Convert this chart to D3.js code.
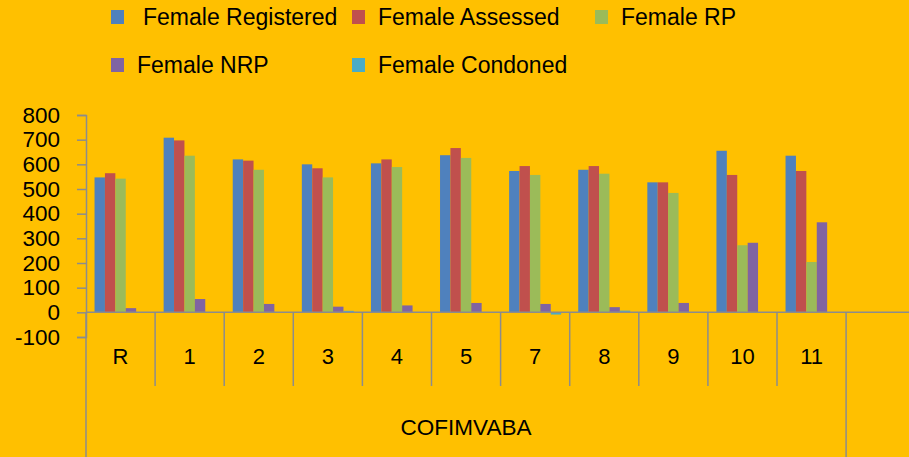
<!DOCTYPE html>
<html>
<head>
<meta charset="utf-8">
<script src="https://cdn.jsdelivr.net/npm/d3@7"></script>
<style>
  html, body { margin: 0; padding: 0; background: #FFC000; }
  svg { display: block; }
  text { font-family: "Liberation Sans", Arial, sans-serif; fill: #000; }
</style>
</head>
<body>
<svg id="chart"></svg>
<script>
const categories = ["R", "1", "2", "3", "4", "5", "7", "8", "9", "10", "11", ""];
const series = ["Female Registered", "Female Assessed", "Female RP", "Female NRP", "Female Condoned"];
const colors = ["#4F81BD", "#C0504D", "#9BBB59", "#8064A2", "#4BACC6"];

const femaleRegistered = [547, 708, 620, 600, 604, 637, 573, 578, 527, 655, 635];
const femaleAssessed   = [564, 697, 615, 584, 620, 666, 593, 593, 527, 557, 573];
const femaleRP         = [542, 635, 578, 547, 589, 626, 557, 562, 484, 272, 204];
const femaleNRP        = [17, 54, 34, 23, 28, 38, 34, 21, 38, 282, 365];
const femaleCondoned   = [0, 0, 0, 6, 0, 0, -9, 7, 0, 0, 0];

const yTicks = [-100, 0, 100, 200, 300, 400, 500, 600, 700, 800];
const groupLabel = "COFIMVABA";

const width = 909;
const height = 457;
const axisColor = "#8C8C8C";
const values = [femaleRegistered, femaleAssessed, femaleRP, femaleNRP, femaleCondoned];

// legend slots (x of swatch, x of text, row centre)
const legendPos = [
    {sx: 111, tx: 143, y: 17},
    {sx: 352, tx: 378, y: 17},
    {sx: 595, tx: 621, y: 17},
    {sx: 111, tx: 137, y: 65},
    {sx: 352, tx: 378, y: 65}
];

const svg = d3.select("#chart")
    .attr("width", width)
    .attr("height", height);

const x = d3.scaleBand()
    .domain(categories)
    .range([86, 86 + 69.1 * categories.length]);

const xs = d3.scaleBand()
    .domain(series)
    .range([0, x.bandwidth()])
    .paddingOuter(0.82);

const y = d3.scaleLinear()
    .domain([-100, 800])
    .range([337, 115]);

// bars
const groups = svg.append("g")
    .selectAll("g")
    .data(series)
    .join("g")
    .attr("fill", (d, i) => colors[i]);

groups.selectAll("rect")
    .data((s, i) => values[i].map((v, j) => ({s, v, c: categories[j]})))
    .join("rect")
    .attr("x", d => x(d.c) + xs(d.s))
    .attr("width", xs.bandwidth())
    .attr("y", d => y(Math.max(0, d.v)))
    .attr("height", d => Math.abs(y(d.v) - y(0)));

// y axis
const yAxis = d3.axisLeft(y)
    .tickValues(yTicks)
    .tickSize(9)
    .tickPadding(17)
    .tickFormat(d => String(d));

const yAxisG = svg.append("g")
    .attr("transform", "translate(86,0)")
    .call(yAxis);

yAxisG.select(".domain").attr("stroke", axisColor).attr("stroke-width", 1.5);
yAxisG.selectAll(".tick line").attr("stroke", axisColor).attr("stroke-width", 1.5);
yAxisG.selectAll(".tick text")
    .attr("font-size", 22.5)
    .attr("font-family", "Liberation Sans, Arial, sans-serif")
    .attr("fill", "#000");

// category axis
const y0 = y(0);
svg.append("line")
    .attr("x1", 86).attr("x2", width)
    .attr("y1", y0).attr("y2", y0)
    .attr("stroke", axisColor).attr("stroke-width", 1.5);

// dividers between categories
svg.append("g")
    .selectAll("line")
    .data(categories.slice(1))
    .join("line")
    .attr("x1", d => x(d)).attr("x2", d => x(d))
    .attr("y1", y0)
    .attr("y2", (d, i) => i === categories.length - 2 ? height : 386)
    .attr("stroke", axisColor).attr("stroke-width", 1.5);

svg.append("line")
    .attr("x1", 86).attr("x2", 86)
    .attr("y1", y0).attr("y2", height)
    .attr("stroke", axisColor).attr("stroke-width", 1.5);

svg.append("g")
    .selectAll("text")
    .data(categories)
    .join("text")
    .attr("x", d => x(d) + x.bandwidth() / 2)
    .attr("y", 364)
    .attr("text-anchor", "middle")
    .attr("font-size", 22)
    .text(d => d);

svg.append("text")
    .attr("x", (86 + x(categories[categories.length - 1])) / 2)
    .attr("y", 435)
    .attr("text-anchor", "middle")
    .attr("font-size", 22.5)
    .text(groupLabel);

// legend
const legend = svg.append("g")
    .selectAll("g")
    .data(series)
    .join("g");

legend.append("rect")
    .attr("x", (d, i) => legendPos[i].sx)
    .attr("y", (d, i) => legendPos[i].y - 7)
    .attr("width", 13)
    .attr("height", 14)
    .attr("fill", (d, i) => colors[i]);

legend.append("text")
    .attr("x", (d, i) => legendPos[i].tx)
    .attr("y", (d, i) => legendPos[i].y + 8)
    .attr("font-size", 23)
    .text(d => d);
</script>
</body>
</html>
